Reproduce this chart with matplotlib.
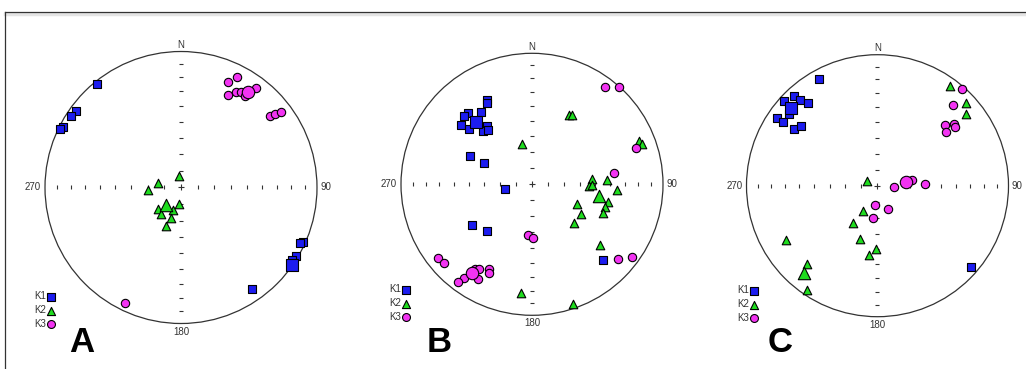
import numpy as np
import matplotlib
matplotlib.use("Agg")
import matplotlib.pyplot as plt
from matplotlib.patches import Circle
from matplotlib.lines import Line2D

plt.rcParams['font.family'] = ['Liberation Sans', 'DejaVu Sans']

# Principal axes (trend, plunge) in degrees, lower hemisphere.
A_K1 = [(321, 2), (306, 5), (303, 4), (297, 3), (296, 1.5), (114, 2), (115, 4),
        (121, 2), (123, 3), (145, 10)]
A_K1_MEAN = (125, 0.5)
A_K2 = [(352, 83), (281, 76), (266, 70), (187, 80), (227, 71), (200, 76),
        (217, 70), (199, 71), (201, 65)]
A_K2_MEAN = (221, 76)
A_K3 = [(24, 16), (27, 10), (27, 25), (30, 20), (32, 18), (37, 9.5), (35, 19),
        (51, 17), (52, 13), (53, 9), (206, 6)]
A_K3_MEAN = (35, 15)

B_K1 = [(332, 28), (331, 30), (318, 28), (315, 27), (325, 33), (310, 30),
        (311, 36), (322, 43), (317, 44), (321, 46), (295, 47), (294, 57),
        (260, 73), (236, 44), (224, 49), (137, 22)]
B_K1_MEAN = (318, 36)
B_K2 = [(28, 40), (30, 39), (346, 64), (68, 13), (70, 12), (85, 52), (92, 54),
        (91, 52), (87, 42), (94, 35), (103, 40), (114, 59), (107, 41), (121, 54),
        (112, 41), (133, 54), (132, 31), (186, 18), (161, 4)]
B_K2_MEAN = (100, 47)
B_K3 = [(37, 8), (42, 0.5), (71, 17), (82, 37), (184, 58), (179, 56), (232, 10),
        (228, 11), (216, 13), (217, 7), (214, 23), (212, 25), (210, 18),
        (207, 28), (206, 26), (131, 14), (126, 6)]
B_K3_MEAN = (214, 19)

C_K1 = [(331, 8), (312, 4), (317, 7), (318, 13), (320, 19), (309, 14), (304, 8),
        (304, 14), (304, 24), (308, 27), (131, 6)]
C_K1_MEAN = (312, 12)
C_K2 = [(36, 7), (47, 8), (51, 14), (295, 83), (211, 72), (213, 62), (198, 55),
        (181, 50), (187, 46), (239, 20), (222, 21), (214, 4)]
C_K2_MEAN = (220, 14)
C_K3 = [(41, 2), (43, 17), (48, 31), (51, 26), (53, 27), (52, 34), (81, 68),
        (96, 80), (88, 60), (187, 78), (155, 74), (188, 70)]
C_K3_MEAN = (83, 72)

PANELS = ["A", "B", "C"]
SERIES = ["K1", "K2", "K3"]
DATA = {
    "A": [(A_K1, A_K1_MEAN), (A_K2, A_K2_MEAN), (A_K3, A_K3_MEAN)],
    "B": [(B_K1, B_K1_MEAN), (B_K2, B_K2_MEAN), (B_K3, B_K3_MEAN)],
    "C": [(C_K1, C_K1_MEAN), (C_K2, C_K2_MEAN), (C_K3, C_K3_MEAN)],
}

MARKERS = ['s', '^', 'o']
COLORS = ['#1c1cf0', '#1edc1e', '#f233f2']
SIZES = [40, 38, 36]
MEAN_SIZES = [85, 80, 80]

# layout in pixels (center x, center y, radius), legend and letter positions
W, H = 1026, 369
GEOM = {"A": (181, 187.5, 136), "B": (532, 184.3, 131), "C": (877.5, 185.7, 131)}
LEG = {"A": (34, 329), "B": (389, 322), "C": (737, 323)}
LETTER = {"A": (82, 343), "B": (439, 343), "C": (780, 343)}


def project(pts):
    pts = np.atleast_2d(np.asarray(pts, dtype=float))
    t = np.radians(pts[:, 0])
    p = np.radians(pts[:, 1])
    r = np.sqrt(2) * np.sin((np.pi / 2 - p) / 2)
    return r * np.sin(t), r * np.cos(t)


fig = plt.figure(figsize=(W / 100, H / 100), dpi=100)

# frame lines (top and left)
fig.add_artist(Line2D([5 / W, 1], [1 - 13.5 / H, 1 - 13.5 / H], color='#e4e4e4', lw=2.5))
fig.add_artist(Line2D([5 / W, 1], [1 - 12.3 / H, 1 - 12.3 / H], color='#333333', lw=0.9))
fig.add_artist(Line2D([5 / W, 5 / W], [0, 1 - 12.3 / H], color='#333333', lw=0.9))

L = 1.2
tick_r = np.sqrt(2) * np.sin(np.radians(np.arange(10, 90, 10)) / 2)

for name in PANELS:
    cx, cy, R = GEOM[name]
    ax = fig.add_axes([(cx - L * R) / W, (H - cy - L * R) / H, 2 * L * R / W, 2 * L * R / H])
    ax.set_xlim(-L, L)
    ax.set_ylim(-L, L)
    ax.axis('off')

    ax.add_patch(Circle((0, 0), 1, fill=False, ec='#333333', lw=0.9))
    tr = np.concatenate([-tick_r, tick_r])
    ax.plot(tr, np.zeros_like(tr), ls='none', marker='|', ms=3, mew=0.8, color='#333333')
    ax.plot(np.zeros_like(tr), tr, ls='none', marker='_', ms=3.5, mew=0.8, color='#333333')
    ax.plot([0], [0], marker='+', ms=4, mew=0.8, color='#333333')

    ax.text(0, 1.05, "N", ha='center', va='center', fontsize=7, color='#333333')
    ax.text(0, -1.06, "180", ha='center', va='center', fontsize=7, color='#333333')
    ax.text(-1.03, 0, "270", ha='right', va='center', fontsize=7, color='#333333')
    ax.text(1.025, 0, "90", ha='left', va='center', fontsize=7, color='#333333')

    handles = []
    for i, (pts, mean) in enumerate(DATA[name]):
        x, y = project(pts)
        h = ax.scatter(x, y, marker=MARKERS[i], s=SIZES[i], c=COLORS[i],
                       edgecolors='black', linewidths=0.8, zorder=3, label=SERIES[i])
        mx, my = project(mean)
        ax.scatter(mx, my, marker=MARKERS[i], s=MEAN_SIZES[i], c=COLORS[i],
                   edgecolors='black', linewidths=0.8, zorder=4)
        handles.append(h)

    lx, ly = LEG[name]
    leg = ax.legend(handles=handles, loc='lower left', bbox_to_anchor=(lx / W, 1 - ly / H),
                    bbox_transform=fig.transFigure, frameon=False, markerfirst=False,
                    fontsize=7, handlelength=0.7, handletextpad=0.15, labelspacing=0.4,
                    borderpad=0, borderaxespad=0, markerscale=0.95)
    for t in leg.get_texts():
        t.set_color('#333333')

    fx, fy = LETTER[name]
    fig.text(fx / W, 1 - fy / H, name, ha='center', va='center', fontsize=25,
             fontweight='bold', color='black')

fig.savefig("out.png", dpi=100)
